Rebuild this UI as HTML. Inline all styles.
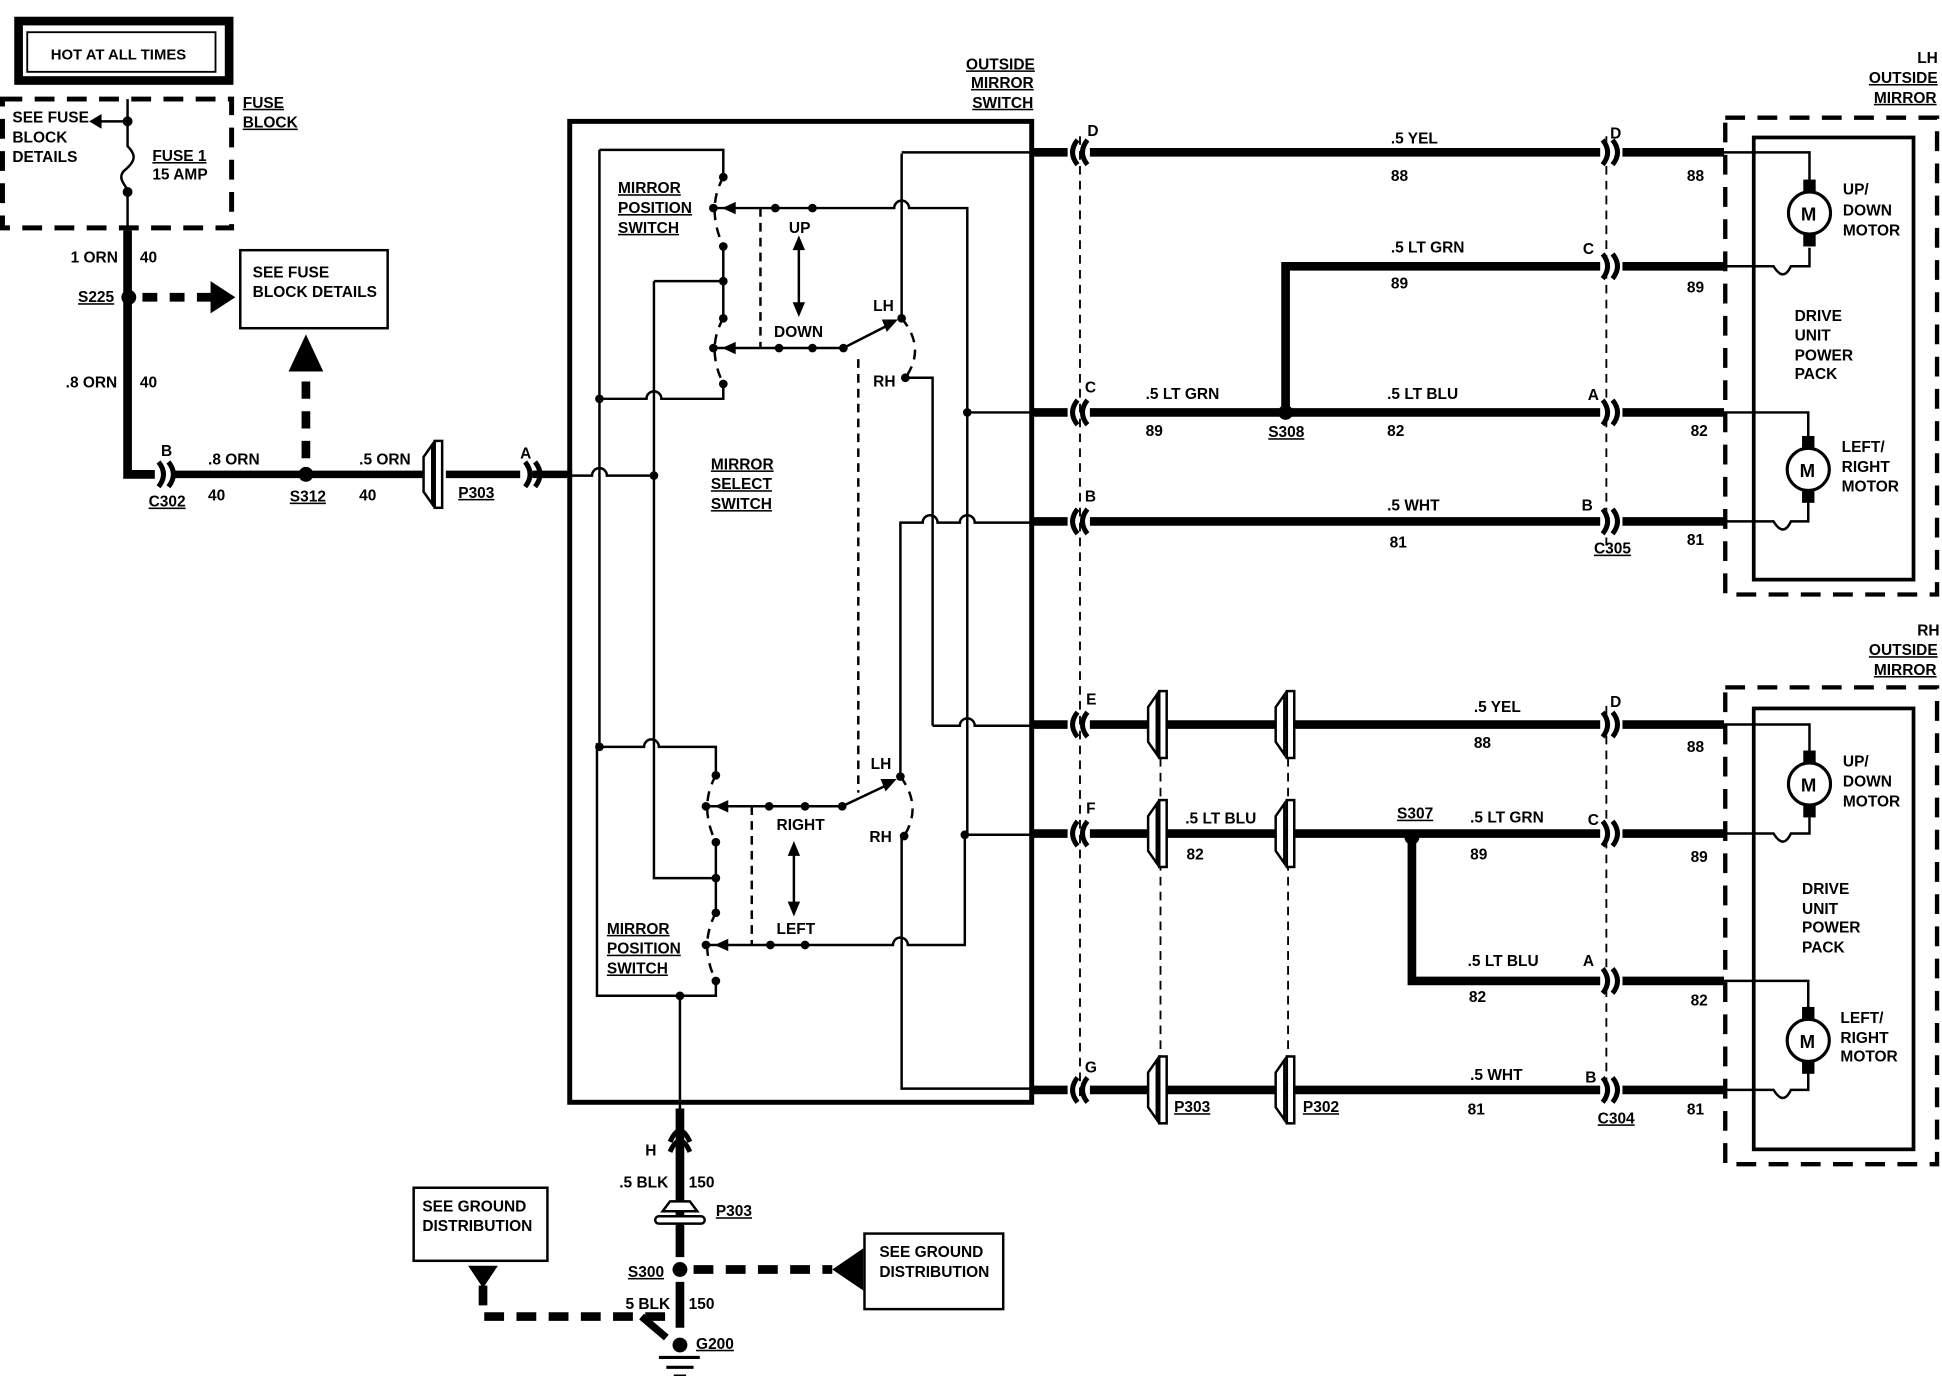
<!DOCTYPE html>
<html><head><meta charset="utf-8"><style>
html,body{margin:0;padding:0;background:#fff}
svg{display:block}
text{font-family:"Liberation Sans",sans-serif;font-weight:bold;font-size:12.5px;fill:#000}
.u{text-decoration:underline}
</style></head><body>
<svg width="1942" height="1376" viewBox="0 0 1568 1111" preserveAspectRatio="none" xmlns="http://www.w3.org/2000/svg">
<defs>
<g id="cr"><path d="M-8 -10 Q0 0 -8 10 M0 -10 Q8 0 0 10" fill="none" stroke="#000" stroke-width="4"/></g>
<g id="cl"><path d="M8 -10 Q0 0 8 10 M0 -10 Q-8 0 0 10" fill="none" stroke="#000" stroke-width="4"/></g>
<g id="ic"><polygon points="-10,-14 -3,-24 -3,24 -10,14" fill="#fff" stroke="#000" stroke-width="2"/><rect x="-1" y="-27" width="6" height="54" fill="#fff" stroke="#000" stroke-width="2"/></g>
<g id="motor"><circle r="17" fill="#fff" stroke="#000" stroke-width="2.5"/><rect x="-5" y="-27" width="10" height="10"/><rect x="-5" y="17" width="10" height="10"/><text x="-7" y="6" style="font-size:15px">M</text></g>
</defs>
<g fill="none" stroke="#000">
<!-- hot at all times -->
<rect x="15" y="17" width="170" height="48" stroke-width="7"/>
<rect x="22" y="26" width="152" height="32" stroke-width="1.5"/>
<!-- fuse block dashed -->
<path d="M2 80 H187 V184 H2 Z" stroke-width="4" stroke-dasharray="16,10"/>
<path d="M103 80 V98 M103 98 H80" stroke-width="2"/>
<path d="M103 98 V118 C110 125 110 130 100 138 C94 145 103 150 103 155 V186" stroke-width="2"/>
<path d="M103 186 V383 H125" stroke-width="7"/>
<path d="M115 240 H180" stroke-width="7" stroke-dasharray="12,10"/>
<path d="M247 370 V300" stroke-width="7" stroke-dasharray="14,10"/>
<rect x="194" y="202" width="119" height="63" stroke-width="2"/>
<path d="M140 383 H345 M360 383 H420 M430 383 H462" stroke-width="6"/>
<!-- main switch box -->
<rect x="460" y="98" width="373" height="792" stroke-width="4"/>
<!-- internals thin -->
<g stroke-width="2">
<path d="M484 121 V600 M482 600 V804 H578 V792"/>
<path d="M484 121 H584 V143"/>
<path d="M584 199 V257"/>
<path d="M528 227 H584"/>
<path d="M528 227 V709 H578"/>
<path d="M578 680 V737"/>
<path d="M584 310 V322 H534 a6 6 0 0 0 -12 0 H484"/>
<path d="M462 384 H478 a6 6 0 0 1 12 0 H528"/>
<path d="M484 603 H520 a6 6 0 0 1 12 0 H578 V626"/>
<path d="M578 168 H722 a6 6 0 0 1 12 0 H781 V675"/>
<path d="M578 281 H681 L722 260"/>
<path d="M728 124 V257"/>
<path d="M731 305 H753 V586"/>
<path d="M728 123 H833"/>
<path d="M781 333 H833"/>
<path d="M727 627 V422 H745 a6 6 0 0 1 12 0 H775 a6 6 0 0 1 12 0 H833"/>
<path d="M753 586 H775 a6 6 0 0 1 12 0 H833"/>
<path d="M779 674 H833"/>
<path d="M570 651 H680 L720 632"/>
<path d="M570 763 H721 a6 6 0 0 1 12 0 H779 V674"/>
<path d="M728 675 V879 H833"/>
<path d="M549 804 V895"/>
<!-- blade dashes -->
<path d="M584 143 Q570 168 584 199 M584 257 Q570 281 584 310 M578 626 Q564 651 578 680 M578 737 Q564 763 578 792 M728 257 Q748 281 731 305 M727 627 Q745 651 730 675" stroke-dasharray="8,6"/>
<path d="M614 168 V281 M693 290 V640 M607 651 V763" stroke-dasharray="7,5"/>
<path d="M645 193 V252 M641 682 V737"/>
<path d="M872 110 V890 M1297 110 V440 M1297 570 V890 M937 600 V890 M1040 600 V890" stroke-width="1.5" stroke-dasharray="7,5"/>
</g>
<!-- right thick wires -->
<g stroke-width="7">
<path d="M833 123 H862 M880 123 H1292 M1310 123 H1392"/>
<path d="M1038 330 V215 H1292 M1310 215 H1392"/>
<path d="M833 333 H862 M880 333 H1292 M1310 333 H1392"/>
<path d="M833 421 H862 M880 421 H1292 M1310 421 H1392"/>
<path d="M833 585 H862 M880 585 H1292 M1310 585 H1392"/>
<path d="M833 673 H862 M880 673 H1292 M1310 673 H1392"/>
<path d="M1140 680 V792 H1292 M1310 792 H1392"/>
<path d="M833 880 H862 M880 880 H1292 M1310 880 H1392"/>
</g>
<!-- mirror boxes -->
<rect x="1393" y="95" width="171" height="385" stroke-width="3.5" stroke-dasharray="16,10"/>
<rect x="1416" y="111" width="129" height="357" stroke-width="3"/>
<rect x="1393" y="555" width="171" height="385" stroke-width="3.5" stroke-dasharray="16,10"/>
<rect x="1416" y="572" width="129" height="356" stroke-width="3"/>
<g stroke-width="2">
<path d="M1392 123 H1461 V150 M1461 200 V215 H1446 Q1440 228 1432 215 H1392"/>
<path d="M1392 333 H1460 V355 M1460 405 V421 H1446 Q1440 434 1432 421 H1392"/>
<path d="M1392 585 H1461 V610 M1461 660 V673 H1446 Q1440 686 1432 673 H1392"/>
<path d="M1392 792 H1460 V815 M1460 865 V880 H1446 Q1440 893 1432 880 H1392"/>
</g>
<!-- ground -->
<path d="M549 895 V1015 M549 1035 V1072" stroke-width="7"/>
<path d="M560 1025 H672" stroke-width="7" stroke-dasharray="16,10"/>
<path d="M537 1063 H390 V1036" stroke-width="7" stroke-dasharray="16,10"/>
<path d="M518 1063 L538 1080" stroke-width="6"/>
<rect x="698" y="996" width="112" height="61" stroke-width="2"/>
<rect x="334" y="959" width="108" height="59" stroke-width="2"/>
<path d="M532 1096 H565 M538 1104 H560 M544 1111 H554" stroke-width="2.5"/>
<path d="M541 930 Q549 912 557 930 M541 922 Q549 904 557 922" stroke-width="4"/>
</g>
<!-- filled shapes -->
<g fill="#000">
<circle cx="103" cy="98" r="4"/><circle cx="103" cy="155" r="4"/>
<polygon points="72,98 82,92 82,104"/>
<circle cx="104" cy="240" r="6"/><circle cx="247" cy="383" r="6"/>
<polygon points="190,240 170,227 170,253"/>
<polygon points="247,270 233,300 261,300"/>
<circle cx="1038" cy="333" r="6"/><circle cx="1140" cy="676" r="6"/>
<circle cx="549" cy="1025" r="6"/><circle cx="549" cy="1086" r="6"/>
<polygon points="672,1025 697,1008 697,1042"/>
<polygon points="390,1040 378,1022 402,1022"/>
<g>
<circle cx="584" cy="143" r="3.5"/><circle cx="576" cy="168" r="3.5"/><circle cx="584" cy="199" r="3.5"/><circle cx="584" cy="227" r="3.5"/><circle cx="584" cy="257" r="3.5"/><circle cx="576" cy="281" r="3.5"/><circle cx="584" cy="310" r="3.5"/>
<circle cx="484" cy="322" r="3.5"/><circle cx="528" cy="384" r="3.5"/><circle cx="626" cy="168" r="3.5"/><circle cx="656" cy="168" r="3.5"/>
<circle cx="629" cy="281" r="3.5"/><circle cx="656" cy="281" r="3.5"/><circle cx="681" cy="281" r="3.5"/>
<circle cx="728" cy="257" r="3.5"/><circle cx="731" cy="305" r="3.5"/><circle cx="781" cy="333" r="3.5"/>
<circle cx="484" cy="603" r="3.5"/><circle cx="578" cy="626" r="3.5"/><circle cx="570" cy="651" r="3.5"/><circle cx="578" cy="680" r="3.5"/><circle cx="578" cy="709" r="3.5"/><circle cx="578" cy="737" r="3.5"/><circle cx="570" cy="763" r="3.5"/><circle cx="578" cy="792" r="3.5"/><circle cx="549" cy="804" r="3.5"/>
<circle cx="621" cy="651" r="3.5"/><circle cx="650" cy="651" r="3.5"/><circle cx="680" cy="651" r="3.5"/>
<circle cx="622" cy="763" r="3.5"/><circle cx="650" cy="763" r="3.5"/>
<circle cx="727" cy="627" r="3.5"/><circle cx="730" cy="675" r="3.5"/><circle cx="779" cy="674" r="3.5"/>
<polygon points="583,168 594,163 594,173"/><polygon points="583,281 594,276 594,286"/><polygon points="577,651 588,646 588,656"/><polygon points="577,763 588,758 588,768"/>
<polygon points="725,258 712,258 716,268"/><polygon points="724,629 711,629 715,639"/>
<polygon points="645,190 640,202 650,202"/><polygon points="645,256 640,244 650,244"/>
<polygon points="641,679 636,691 646,691"/><polygon points="641,740 636,728 646,728"/>
</g>
</g>
<!-- connectors -->
<use href="#cr" x="136" y="383"/><use href="#cr" x="432" y="383"/>
<use href="#ic" x="352" y="383"/>
<use href="#cl" x="870" y="123"/><use href="#cl" x="870" y="333"/><use href="#cl" x="870" y="421"/>
<use href="#cl" x="870" y="585"/><use href="#cl" x="870" y="673"/><use href="#cl" x="870" y="880"/>
<use href="#cr" x="1302" y="123"/><use href="#cr" x="1302" y="215"/><use href="#cr" x="1302" y="333"/><use href="#cr" x="1302" y="421"/>
<use href="#cr" x="1302" y="585"/><use href="#cr" x="1302" y="673"/><use href="#cr" x="1302" y="792"/><use href="#cr" x="1302" y="880"/>
<use href="#ic" x="937" y="585"/><use href="#ic" x="937" y="673"/><use href="#ic" x="937" y="880"/>
<use href="#ic" x="1040" y="585"/><use href="#ic" x="1040" y="673"/><use href="#ic" x="1040" y="880"/>
<g transform="translate(549,982)"><path d="M-14 -4 L-8 -12 H8 L14 -4 Z" fill="#fff" stroke="#000" stroke-width="2"/><rect x="-20" y="0" width="40" height="6" rx="3" fill="#fff" stroke="#000" stroke-width="2"/></g>
<use href="#motor" x="1461" y="172"/><use href="#motor" x="1460" y="379"/>
<use href="#motor" x="1461" y="633"/><use href="#motor" x="1460" y="840"/>
<!-- text -->
<text x="41" y="48" style="font-size:12px">HOT AT ALL TIMES</text>
<text x="10" y="99">SEE FUSE</text><text x="10" y="115">BLOCK</text><text x="10" y="131">DETAILS</text>
<text x="196" y="87" class="u">FUSE</text><text x="196" y="103" class="u">BLOCK</text>
<text x="123" y="130" class="u">FUSE 1</text><text x="123" y="145">15 AMP</text>
<text x="57" y="212">1 ORN</text><text x="113" y="212">40</text>
<text x="63" y="244" class="u">S225</text>
<text x="204" y="224">SEE FUSE</text><text x="204" y="240">BLOCK DETAILS</text>
<text x="53" y="313">.8 ORN</text><text x="113" y="313">40</text>
<text x="130" y="368">B</text><text x="168" y="375">.8 ORN</text><text x="168" y="404">40</text>
<text x="120" y="409" class="u">C302</text><text x="234" y="405" class="u">S312</text>
<text x="290" y="375">.5 ORN</text><text x="290" y="404">40</text>
<text x="370" y="402" class="u">P303</text><text x="420" y="370">A</text>
<text x="780" y="56" class="u">OUTSIDE</text><text x="784" y="71" class="u">MIRROR</text><text x="785" y="87" class="u">SWITCH</text>
<text x="499" y="156" class="u">MIRROR</text><text x="499" y="172" class="u">POSITION</text><text x="499" y="188" class="u">SWITCH</text>
<text x="637" y="188">UP</text><text x="625" y="272">DOWN</text><text x="705" y="251">LH</text><text x="705" y="312">RH</text>
<text x="574" y="379" class="u">MIRROR</text><text x="574" y="395" class="u">SELECT</text><text x="574" y="411" class="u">SWITCH</text>
<text x="627" y="670">RIGHT</text><text x="627" y="754">LEFT</text><text x="703" y="621">LH</text><text x="702" y="680">RH</text>
<text x="490" y="754" class="u">MIRROR</text><text x="490" y="770" class="u">POSITION</text><text x="490" y="786" class="u">SWITCH</text>
<text x="878" y="110">D</text><text x="1123" y="116">.5 YEL</text><text x="1123" y="146">88</text><text x="1300" y="112">D</text><text x="1362" y="146">88</text>
<text x="1123" y="204">.5 LT GRN</text><text x="1123" y="233">89</text><text x="1278" y="205">C</text><text x="1362" y="236">89</text>
<text x="876" y="317">C</text><text x="925" y="322">.5 LT GRN</text><text x="925" y="352">89</text><text x="1024" y="353" class="u">S308</text>
<text x="1120" y="322">.5 LT BLU</text><text x="1120" y="352">82</text><text x="1282" y="323">A</text><text x="1365" y="352">82</text>
<text x="876" y="405">B</text><text x="1120" y="412">.5 WHT</text><text x="1122" y="442">81</text><text x="1277" y="412">B</text><text x="1287" y="447" class="u">C305</text><text x="1362" y="440">81</text>
<text x="1548" y="51">LH</text><text x="1509" y="67" class="u">OUTSIDE</text><text x="1513" y="83" class="u">MIRROR</text>
<text x="1488" y="157">UP/</text><text x="1488" y="174">DOWN</text><text x="1488" y="190">MOTOR</text>
<text x="1449" y="259">DRIVE</text><text x="1449" y="275">UNIT</text><text x="1449" y="291">POWER</text><text x="1449" y="306">PACK</text>
<text x="1487" y="365">LEFT/</text><text x="1487" y="381">RIGHT</text><text x="1487" y="397">MOTOR</text>
<text x="1548" y="513">RH</text><text x="1509" y="529" class="u">OUTSIDE</text><text x="1513" y="545" class="u">MIRROR</text>
<text x="877" y="569">E</text><text x="1190" y="575">.5 YEL</text><text x="1190" y="604">88</text><text x="1300" y="571">D</text><text x="1362" y="607">88</text>
<text x="877" y="657">F</text><text x="957" y="665">.5 LT BLU</text><text x="958" y="694">82</text><text x="1128" y="661" class="u">S307</text>
<text x="1187" y="664">.5 LT GRN</text><text x="1187" y="694">89</text><text x="1282" y="666">C</text><text x="1365" y="696">89</text>
<text x="1185" y="780">.5 LT BLU</text><text x="1186" y="809">82</text><text x="1278" y="780">A</text><text x="1365" y="812">82</text>
<text x="876" y="866">G</text><text x="948" y="898" class="u">P303</text><text x="1052" y="898" class="u">P302</text>
<text x="1187" y="872">.5 WHT</text><text x="1185" y="900">81</text><text x="1280" y="874">B</text><text x="1290" y="907" class="u">C304</text><text x="1362" y="900">81</text>
<text x="1488" y="619">UP/</text><text x="1488" y="635">DOWN</text><text x="1488" y="651">MOTOR</text>
<text x="1455" y="722">DRIVE</text><text x="1455" y="738">UNIT</text><text x="1455" y="753">POWER</text><text x="1455" y="769">PACK</text>
<text x="1486" y="826">LEFT/</text><text x="1486" y="842">RIGHT</text><text x="1486" y="857">MOTOR</text>
<text x="521" y="933">H</text><text x="500" y="959">.5 BLK</text><text x="556" y="959">150</text><text x="578" y="982" class="u">P303</text>
<text x="341" y="978">SEE GROUND</text><text x="341" y="994">DISTRIBUTION</text>
<text x="710" y="1015">SEE GROUND</text><text x="710" y="1031">DISTRIBUTION</text>
<text x="507" y="1031" class="u">S300</text><text x="505" y="1057">5 BLK</text><text x="556" y="1057">150</text><text x="562" y="1089" class="u">G200</text>
</svg>
</body></html>
